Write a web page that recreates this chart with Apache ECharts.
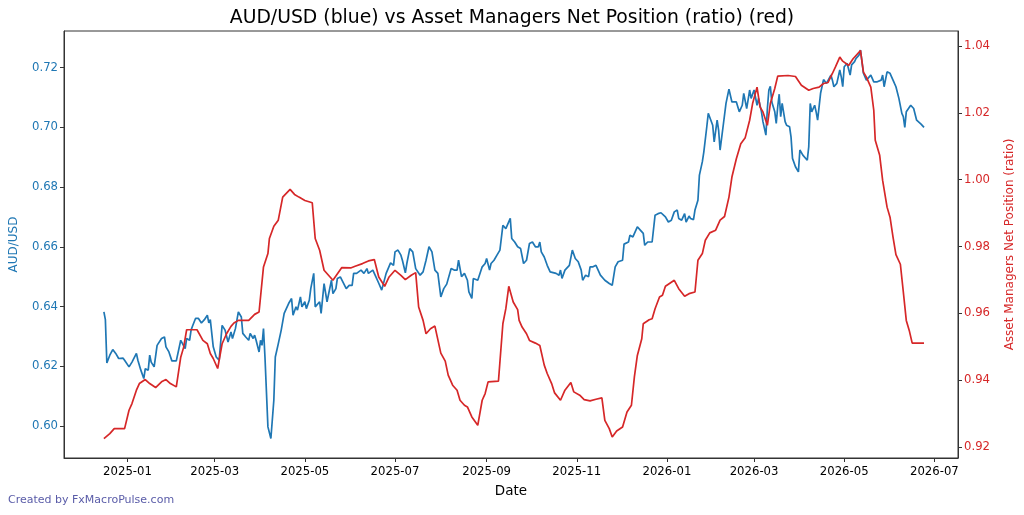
<!DOCTYPE html>
<html>
<head>
<meta charset="utf-8">
<script src="https://cdn.jsdelivr.net/npm/echarts@6/dist/echarts.min.js"></script>
<style>
  html, body { margin: 0; padding: 0; background: #fff; }
  #main { width: 1024px; height: 515px; }
</style>
</head>
<body>
<div id="main"></div>
<script>
// AUD/USD spot (blue)
var audDates = ['2024-12-16','2024-12-17','2024-12-18','2024-12-20','2024-12-22','2024-12-24','2024-12-25','2024-12-26','2024-12-29','2024-12-30',
  '2025-01-02','2025-01-04','2025-01-07','2025-01-08','2025-01-10','2025-01-12','2025-01-13','2025-01-15','2025-01-16','2025-01-17','2025-01-19','2025-01-21','2025-01-24','2025-01-26','2025-01-27','2025-01-29','2025-01-31',
  '2025-02-03','2025-02-04','2025-02-06','2025-02-07','2025-02-09','2025-02-10','2025-02-12','2025-02-13','2025-02-14','2025-02-16','2025-02-18','2025-02-20','2025-02-22','2025-02-24','2025-02-25','2025-02-26','2025-02-28',
  '2025-03-02','2025-03-04','2025-03-06','2025-03-08','2025-03-10','2025-03-12','2025-03-13','2025-03-15','2025-03-17','2025-03-19','2025-03-20','2025-03-22','2025-03-24','2025-03-25','2025-03-27','2025-03-28','2025-03-29','2025-03-31',
  '2025-04-01','2025-04-02','2025-04-03','2025-04-04','2025-04-06','2025-04-07','2025-04-08','2025-04-10','2025-04-11','2025-04-13','2025-04-15','2025-04-17','2025-04-20','2025-04-22','2025-04-23','2025-04-25','2025-04-26','2025-04-28','2025-04-29',
  '2025-05-01','2025-05-02','2025-05-04','2025-05-05','2025-05-07','2025-05-08','2025-05-11','2025-05-12','2025-05-14','2025-05-16','2025-05-17','2025-05-19','2025-05-20','2025-05-22','2025-05-23','2025-05-25','2025-05-26','2025-05-29','2025-05-31',
  '2025-06-02','2025-06-03','2025-06-05','2025-06-08','2025-06-10','2025-06-12','2025-06-13','2025-06-16','2025-06-18','2025-06-20','2025-06-22','2025-06-25','2025-06-28','2025-06-30',
  '2025-07-01','2025-07-03','2025-07-05','2025-07-06','2025-07-08','2025-07-09','2025-07-11','2025-07-13','2025-07-15','2025-07-16','2025-07-18','2025-07-20','2025-07-22','2025-07-24','2025-07-26','2025-07-28','2025-07-30',
  '2025-08-01','2025-08-03','2025-08-05','2025-08-06','2025-08-08','2025-08-10','2025-08-12','2025-08-13','2025-08-15','2025-08-17','2025-08-19','2025-08-20','2025-08-22','2025-08-23','2025-08-26','2025-08-29','2025-08-31',
  '2025-09-01','2025-09-03','2025-09-04','2025-09-06','2025-09-08','2025-09-10','2025-09-12','2025-09-14','2025-09-15','2025-09-17','2025-09-18','2025-09-20','2025-09-22','2025-09-23','2025-09-24','2025-09-26','2025-09-28','2025-09-30',
  '2025-10-02','2025-10-04','2025-10-06','2025-10-07','2025-10-08','2025-10-10','2025-10-12','2025-10-14','2025-10-18','2025-10-20','2025-10-21','2025-10-22','2025-10-24','2025-10-27','2025-10-29','2025-10-31',
  '2025-11-02','2025-11-04','2025-11-05','2025-11-07','2025-11-09','2025-11-10','2025-11-12','2025-11-14','2025-11-15','2025-11-17','2025-11-18','2025-11-20','2025-11-23','2025-11-25','2025-11-27','2025-11-29',
  '2025-12-02','2025-12-03','2025-12-06','2025-12-07','2025-12-09','2025-12-12','2025-12-14','2025-12-16','2025-12-17','2025-12-19','2025-12-20','2025-12-22','2025-12-24','2025-12-26','2025-12-28','2025-12-29','2025-12-31',
  '2026-01-02','2026-01-04','2026-01-06','2026-01-08','2026-01-09','2026-01-11','2026-01-13','2026-01-14','2026-01-16','2026-01-17','2026-01-19','2026-01-20','2026-01-22','2026-01-23','2026-01-25','2026-01-26','2026-01-27','2026-01-28','2026-01-29','2026-01-30',
  '2026-02-01','2026-02-02','2026-02-04','2026-02-05','2026-02-06','2026-02-08','2026-02-10','2026-02-11','2026-02-12','2026-02-14','2026-02-15','2026-02-17','2026-02-19','2026-02-21','2026-02-22','2026-02-24','2026-02-26','2026-02-27',
  '2026-03-01','2026-03-03','2026-03-04','2026-03-06','2026-03-07','2026-03-09','2026-03-10','2026-03-11','2026-03-12','2026-03-13','2026-03-15','2026-03-16','2026-03-17','2026-03-18','2026-03-19','2026-03-20','2026-03-22','2026-03-23','2026-03-25','2026-03-26','2026-03-27','2026-03-29','2026-03-31',
  '2026-04-01','2026-04-03','2026-04-06','2026-04-07','2026-04-08','2026-04-09','2026-04-11','2026-04-12','2026-04-13','2026-04-15','2026-04-17','2026-04-19','2026-04-20','2026-04-22','2026-04-23','2026-04-24','2026-04-26','2026-04-28','2026-04-29','2026-04-30',
  '2026-05-01','2026-05-03','2026-05-04','2026-05-05','2026-05-06','2026-05-08','2026-05-09','2026-05-11','2026-05-12','2026-05-13','2026-05-14','2026-05-16','2026-05-17','2026-05-19','2026-05-21','2026-05-23','2026-05-26','2026-05-27','2026-05-28','2026-05-30',
  '2026-06-01','2026-06-02','2026-06-04','2026-06-05','2026-06-07','2026-06-09','2026-06-10','2026-06-11','2026-06-12','2026-06-15','2026-06-16','2026-06-17','2026-06-19','2026-06-20','2026-06-22','2026-06-24'];
var audValues = [0.6382,0.6356,0.6211,0.6237,0.6256,0.6243,0.6248,0.6226,0.6227,0.6220,
  0.6198,0.6214,0.6243,0.6220,0.6187,0.6159,0.6192,0.6187,0.6237,0.6214,0.6198,0.6270,0.6293,0.6298,0.6265,0.6248,0.6218,
  0.6218,0.6220,0.6287,0.6281,0.6259,0.6293,0.6287,0.6321,0.6335,0.6360,0.6360,0.6345,0.6356,0.6371,0.6345,0.6356,0.6265,
  0.6231,0.6220,0.6337,0.6321,0.6281,0.6315,0.6293,0.6326,0.6382,0.6365,0.6310,0.6298,0.6287,0.6310,0.6293,0.6304,0.6287,0.6248,
  0.6287,0.6270,0.6326,0.6231,0.5997,0.5991,0.5958,0.6086,0.6231,0.6275,0.6321,0.6377,0.6410,0.6427,0.6371,0.6399,0.6388,0.6432,0.6399,
  0.6416,0.6393,0.6421,0.6460,0.6511,0.6399,0.6416,0.6377,0.6477,0.6416,0.6421,0.6488,0.6443,0.6460,0.6494,0.6499,0.6505,0.6460,0.6471,
  0.6471,0.6511,0.6511,0.6522,0.6511,0.6527,0.6511,0.6522,0.6500,0.6478,0.6455,0.6511,0.6546,0.6538,
  0.6583,0.6589,0.6572,0.6555,0.6513,0.6544,0.6594,0.6583,0.6527,0.6527,0.6505,0.6516,0.6555,0.6600,0.6583,0.6522,0.6511,
  0.6432,0.6460,0.6475,0.6477,0.6527,0.6522,0.6522,0.6555,0.6500,0.6511,0.6488,0.6449,0.6427,0.6494,0.6488,0.6533,0.6544,
  0.6561,0.6522,0.6544,0.6555,0.6572,0.6589,0.6672,0.6661,0.6667,0.6695,0.6628,0.6616,0.6600,0.6600,0.6594,0.6544,0.6555,0.6611,
  0.6616,0.6600,0.6600,0.6616,0.6583,0.6566,0.6538,0.6516,0.6511,0.6505,0.6522,0.6494,0.6522,0.6538,0.6589,0.6561,
  0.6550,0.6522,0.6488,0.6505,0.6500,0.6533,0.6533,0.6538,0.6533,0.6505,0.6511,0.6488,0.6477,0.6471,0.6533,0.6550,
  0.6555,0.6609,0.6616,0.6639,0.6633,0.6667,0.6656,0.6645,0.6605,0.6616,0.6616,0.6616,0.6706,0.6711,0.6714,0.6717,0.6700,
  0.6683,0.6689,0.6717,0.6723,0.6695,0.6689,0.6711,0.6683,0.6703,0.6695,0.6691,0.6723,0.6756,0.6840,0.6885,0.6918,0.6924,0.7002,0.7047,0.7052,
  0.7007,0.6951,0.7024,0.6991,0.6924,0.7002,0.7080,0.7080,0.7128,0.7085,0.7080,0.7085,0.7052,0.7074,0.7114,0.7063,0.7125,0.7097,
  0.7125,0.7074,0.7097,0.7052,0.7019,0.6974,0.7063,0.7125,0.7137,0.7085,0.7052,0.7013,0.7069,0.7111,0.7036,0.7080,0.7019,0.7007,0.7002,0.6968,0.6896,0.6868,0.6851,
  0.6924,0.6907,0.6890,0.6935,0.7080,0.7052,0.7074,0.7052,0.7024,0.7114,0.7160,0.7147,0.7152,0.7175,0.7158,0.7136,0.7147,0.7192,0.7169,0.7136,
  0.7203,0.7214,0.7212,0.7175,0.7209,0.7220,0.7231,0.7242,0.7259,0.7220,0.7181,0.7158,0.7152,0.7175,0.7152,0.7152,0.7158,0.7175,0.7136,0.7186,
  0.7181,0.7175,0.7147,0.7136,0.7097,0.7047,0.7036,0.7000,0.7052,0.7074,0.7080,0.7063,0.7024,0.7019,0.7011,0.7000];

// asset managers net position ratio (red)
var posDates = ['2024-12-16','2024-12-20','2024-12-23','2024-12-30',
  '2025-01-02','2025-01-04','2025-01-07','2025-01-09','2025-01-13','2025-01-16','2025-01-20','2025-01-24','2025-01-27','2025-01-30',
  '2025-02-03','2025-02-06','2025-02-08','2025-02-10','2025-02-17','2025-02-21','2025-02-24','2025-02-26','2025-02-28',
  '2025-03-03','2025-03-06','2025-03-09','2025-03-12','2025-03-14','2025-03-17','2025-03-24','2025-03-28','2025-03-31',
  '2025-04-03','2025-04-06','2025-04-07','2025-04-10','2025-04-13','2025-04-16','2025-04-21','2025-04-24','2025-04-27',
  '2025-05-01','2025-05-06','2025-05-08','2025-05-11','2025-05-14','2025-05-20','2025-05-26',
  '2025-06-01','2025-06-04','2025-06-09','2025-06-13','2025-06-17','2025-06-20','2025-06-24','2025-06-27',
  '2025-07-01','2025-07-05','2025-07-08','2025-07-12','2025-07-15','2025-07-17','2025-07-20','2025-07-22','2025-07-25','2025-07-28',
  '2025-08-01','2025-08-04','2025-08-06','2025-08-09','2025-08-12','2025-08-14','2025-08-17','2025-08-19','2025-08-22','2025-08-26','2025-08-29','2025-08-31',
  '2025-09-02','2025-09-09','2025-09-12','2025-09-14','2025-09-16','2025-09-19','2025-09-22','2025-09-23','2025-09-25','2025-09-28','2025-09-30',
  '2025-10-04','2025-10-07','2025-10-10','2025-10-12','2025-10-15','2025-10-17','2025-10-21','2025-10-24','2025-10-28','2025-10-30',
  '2025-11-03','2025-11-06','2025-11-10','2025-11-14','2025-11-18','2025-11-20','2025-11-23','2025-11-25','2025-11-28',
  '2025-12-02','2025-12-05','2025-12-08','2025-12-10','2025-12-12','2025-12-15','2025-12-16','2025-12-20','2025-12-22','2025-12-24','2025-12-27','2025-12-29','2025-12-31',
  '2026-01-06','2026-01-09','2026-01-13','2026-01-16','2026-01-20','2026-01-22','2026-01-25','2026-01-27','2026-01-30',
  '2026-02-03','2026-02-06','2026-02-09','2026-02-12','2026-02-14','2026-02-17','2026-02-20','2026-02-23','2026-02-26','2026-02-28',
  '2026-03-03','2026-03-05','2026-03-07','2026-03-10','2026-03-12','2026-03-15','2026-03-17','2026-03-24','2026-03-29',
  '2026-04-02','2026-04-07','2026-04-10','2026-04-14','2026-04-17','2026-04-20','2026-04-23','2026-04-25','2026-04-28','2026-04-30',
  '2026-05-04','2026-05-07','2026-05-09','2026-05-12','2026-05-14','2026-05-16','2026-05-19','2026-05-21','2026-05-22','2026-05-25','2026-05-27','2026-05-30',
  '2026-06-01','2026-06-03','2026-06-05','2026-06-08','2026-06-10','2026-06-12','2026-06-14','2026-06-16','2026-06-24'];
var posValues = [0.9225,0.9240,0.9255,0.9255,
  0.9310,0.9330,0.9370,0.9390,0.9402,0.9390,0.9378,0.9395,0.9402,0.9390,
  0.9380,0.9469,0.9499,0.9551,0.9551,0.9519,0.9509,0.9480,0.9465,
  0.9435,0.9509,0.9539,0.9561,0.9571,0.9579,0.9579,0.9597,0.9604,
  0.9739,0.9779,0.9824,0.9861,0.9879,0.9948,0.9971,0.9956,0.9948,
  0.9938,0.9931,0.9824,0.9789,0.9729,0.9699,0.9737,
  0.9736,0.9741,0.9749,0.9757,0.9761,0.9709,0.9681,0.9709,
  0.9729,0.9714,0.9701,0.9714,0.9722,0.9619,0.9579,0.9539,0.9554,0.9562,
  0.9481,0.9457,0.9415,0.9385,0.9370,0.9340,0.9325,0.9320,0.9290,0.9265,0.9340,0.9360,
  0.9395,0.9397,0.9569,0.9614,0.9681,0.9634,0.9611,0.9579,0.9559,0.9539,0.9519,
  0.9511,0.9504,0.9445,0.9420,0.9390,0.9362,0.9340,0.9370,0.9393,0.9365,
  0.9355,0.9342,0.9338,0.9343,0.9347,0.9280,0.9255,0.9230,0.9248,
  0.9260,0.9305,0.9325,0.9410,0.9474,0.9524,0.9569,0.9581,0.9584,0.9614,0.9649,0.9654,0.9681,
  0.9699,0.9674,0.9651,0.9659,0.9664,0.9759,0.9779,0.9819,0.9841,
  0.9849,0.9879,0.9890,0.9948,1.0008,1.0063,1.0108,1.0126,1.0178,1.0228,
  1.0277,1.0218,1.0203,1.0163,1.0228,1.0273,1.0310,1.0312,1.0309,
  1.0283,1.0268,1.0273,1.0277,1.0288,1.0291,1.0318,1.0337,1.0367,1.0355,
  1.0342,1.0362,1.0372,1.0387,1.0322,1.0307,1.0277,1.0208,1.0118,1.0073,0.9998,0.9918,
  0.9888,0.9829,0.9776,0.9747,0.9664,0.9579,0.9549,0.9511,0.9511];

var monthTicks = ['2025-01','2025-03','2025-05','2025-07','2025-09','2025-11','2026-01','2026-03','2026-05','2026-07'];
var audTicks = [0.60, 0.62, 0.64, 0.66, 0.68, 0.70, 0.72];
var posTicks = [0.92, 0.94, 0.96, 0.98, 1.00, 1.02, 1.04];

var BLUE = '#1f77b4';
var RED = '#d62728';
var FONT = 'DejaVu Sans';

function toTime(s) {
  var p = s.split('-');
  return new Date(+p[0], +p[1] - 1, p[2] ? +p[2] : 1).getTime();
}

function pairs(dates, values) {
  var out = [];
  for (var i = 0; i < dates.length; i++) {
    out.push([toTime(dates[i]), values[i]]);
  }
  return out;
}

var tickTimes = monthTicks.map(toTime);

var myChart = echarts.init(document.getElementById('main'), null, { renderer: 'canvas' });

var option = {
  animation: false,
  backgroundColor: '#fff',
  textStyle: { fontFamily: FONT },
  title: {
    text: 'AUD/USD (blue) vs Asset Managers Net Position (ratio) (red)',
    left: 'center',
    top: 4,
    textStyle: { fontFamily: FONT, fontSize: 18.8, fontWeight: 'normal', color: '#000' }
  },
  grid: {
    left: 63, right: 66, top: 31, bottom: 57,
    show: true, borderColor: '#333', borderWidth: 1, backgroundColor: 'transparent'
  },
  // dates as plain timestamps on a value axis so the month ticks can be placed exactly
  xAxis: {
    type: 'value',
    min: toTime('2024-11-19'),
    max: toTime('2026-07-17'),
    name: 'Date',
    nameLocation: 'middle',
    nameGap: 26,
    nameTextStyle: { fontFamily: FONT, fontSize: 13.5, color: '#000' },
    axisLine: { show: true, lineStyle: { color: '#333', width: 1 } },
    axisTick: { show: true, length: 4, lineStyle: { color: '#333' }, customValues: tickTimes },
    axisLabel: {
      customValues: tickTimes,
      margin: 8,
      fontFamily: FONT, fontSize: 11.7, color: '#000',
      formatter: function (val) {
        var d = new Date(val);
        var m = d.getMonth() + 1;
        return d.getFullYear() + '-' + (m < 10 ? '0' + m : m);
      }
    },
    splitLine: { show: false }
  },
  yAxis: [{
    type: 'value',
    position: 'left',
    min: 0.58928,
    max: 0.73226,
    name: 'AUD/USD',
    nameLocation: 'middle',
    nameRotate: 90,
    nameGap: 44,
    nameTextStyle: { fontFamily: FONT, fontSize: 12, color: BLUE },
    axisLine: { show: true, lineStyle: { color: '#333', width: 1 } },
    axisTick: { show: true, length: 4, lineStyle: { color: '#333' }, customValues: audTicks },
    axisLabel: {
      customValues: audTicks,
      margin: 6,
      fontFamily: FONT, fontSize: 11.7, color: BLUE,
      formatter: function (v) { return v.toFixed(2); }
    },
    splitLine: { show: false }
  }, {
    type: 'value',
    position: 'right',
    min: 0.91671,
    max: 1.04452,
    name: 'Asset Managers Net Position (ratio)',
    nameLocation: 'middle',
    nameRotate: 90,
    nameGap: 46,
    nameTextStyle: { fontFamily: FONT, fontSize: 12, color: RED },
    axisLine: { show: true, lineStyle: { color: '#333', width: 1 } },
    axisTick: { show: true, length: 4, lineStyle: { color: '#333' }, customValues: posTicks },
    axisLabel: {
      customValues: posTicks,
      margin: 6,
      fontFamily: FONT, fontSize: 11.7, color: RED,
      formatter: function (v) { return v.toFixed(2); }
    },
    splitLine: { show: false }
  }],
  graphic: [{
    type: 'text',
    left: 8,
    top: 495,
    style: { text: 'Created by FxMacroPulse.com', fontFamily: FONT, fontSize: 11, fill: '#5a5ca8' }
  }],
  series: [{
    name: 'AUD/USD',
    type: 'line',
    yAxisIndex: 0,
    showSymbol: false,
    symbol: 'none',
    lineStyle: { color: BLUE, width: 1.7 },
    itemStyle: { color: BLUE },
    data: pairs(audDates, audValues),
    z: 2
  }, {
    name: 'Asset Managers Net Position (ratio)',
    type: 'line',
    yAxisIndex: 1,
    showSymbol: false,
    symbol: 'none',
    lineStyle: { color: RED, width: 1.7 },
    itemStyle: { color: RED },
    data: pairs(posDates, posValues),
    z: 3
  }]
};

myChart.setOption(option);
</script>
</body>
</html>
